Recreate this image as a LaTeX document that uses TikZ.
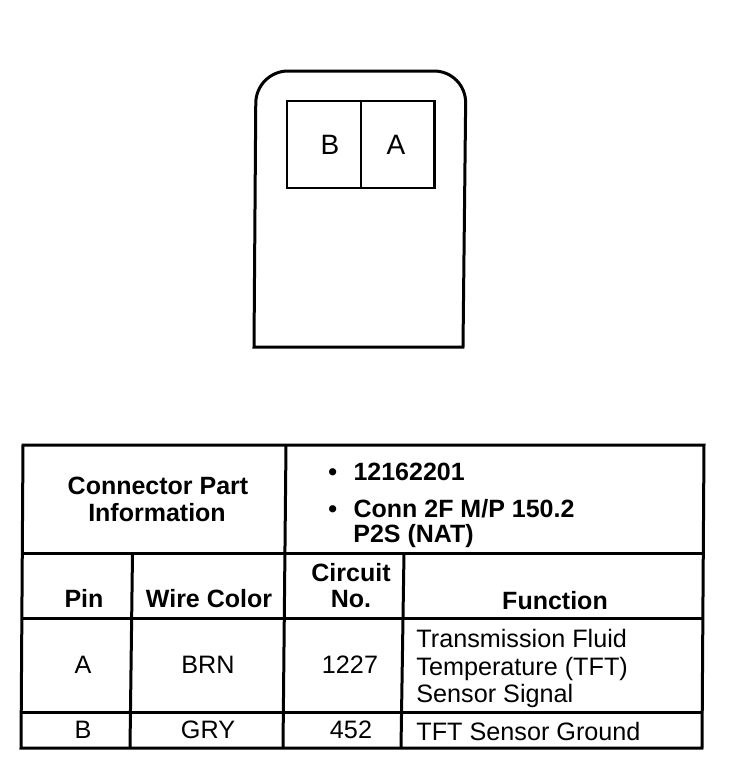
\documentclass[tikz,border=0pt]{standalone}
\usepackage{fontspec}
\setmainfont{Liberation Sans}
\usetikzlibrary{positioning}

\begin{document}
\begin{tikzpicture}[x=0.5pt, y=-0.5pt]
	\tikzstyle{rule}=[line width=1.5pt]
\tikzstyle{pinbox}=[rectangle, draw, line width=1.1pt, inner sep=0pt, outer sep=0pt, minimum width=36.8pt, minimum height=43.5pt]
\tikzstyle{pinlabel}=[inner sep=0pt, anchor=base, font=\fontsize{14}{14}\selectfont]
\tikzstyle{head}=[inner sep=0pt, anchor=base, font=\fontsize{12.5}{12.5}\selectfont\bfseries]
\tikzstyle{headleft}=[head, anchor=base west]
\tikzstyle{cell}=[inner sep=0pt, anchor=base, font=\fontsize{12.6}{12.6}\selectfont]
\tikzstyle{cellleft}=[cell, anchor=base west]
\useasboundingbox (0,0) rectangle (736,778);
% connector outline
\draw[rule] (254,347) [rounded corners=16pt] -- (256,71) -- (466,71) [sharp corners] -- (463,347) -- cycle;
\node[pinbox] (pinB) at (324,144.5) { };
\node[pinbox] (pinA) [right=0pt of pinB] { };
\node[pinlabel] (labelB) at (330,154) {B};
\node[pinlabel] (labelA) at (396,154) {A};
% table grid
\coordinate (tl) at (23,445);
\coordinate (tm) at (286,445);
\coordinate (tr) at (704,445);
\coordinate (al) at (22.5,553);
\coordinate (ap) at (132.5,553);
\coordinate (am) at (285.5,553);
\coordinate (ac) at (404,553);
\coordinate (ar) at (703.5,553);
\coordinate (bl) at (22,618);
\coordinate (br) at (703,618);
\coordinate (cl) at (21.5,712);
\coordinate (cr) at (702,712);
\coordinate (dl) at (21,748);
\coordinate (dp) at (130,748);
\coordinate (dm) at (283,748);
\coordinate (dc) at (401,748);
\coordinate (dr) at (702,748);
\draw[rule] (tl) -- (tr) -- (dr) -- (dl) -- cycle;
\path (tm) edge [rule] (dm)
      (ap) edge [rule] (dp)
      (ac) edge [rule] (dc)
      (al) edge [rule] (ar)
      (bl) edge [rule] (br)
      (cl) edge [rule] (cr);
% table text
\node[head] (partA) at (158,494) {Connector Part};
\node[head] (partB) at (157,521) {Information};
\node[headleft] (number) at (328,480) {\textbullet\hspace{8.2pt}12162201};
\node[headleft] (conn) at (328,517) {\textbullet\hspace{8.2pt}Conn 2F M/P 150.2};
\node[headleft] (conn2) at (353,542) {P2S (NAT)};
\node[head] (pin) at (84,607) {Pin};
\node[head] (wire) at (209,607) {Wire Color};
\node[head] (circuit) at (351,581) {Circuit};
\node[head] (circuit2) at (351,607) {No.};
\node[head] (function) at (555,609) {Function};
\node[cell] (pinRowA) at (83,673) {A};
\node[cell] (wireA) at (208,673) {BRN};
\node[cell] (circuitA) at (350,673) {1227};
\node[cellleft] (funcA) at (416,647) {Transmission Fluid};
\node[cellleft] (funcA2) at (416,675) {Temperature (TFT)};
\node[cellleft] (funcA3) at (416,702) {Sensor Signal};
\node[cell] (pinRowB) at (83,738) {B};
\node[cell] (wireB) at (208,738) {GRY};
\node[cell] (circuitB) at (351,738) {452};
\node[cellleft] (funcB) at (416,740) {TFT Sensor Ground};
\end{tikzpicture}
\end{document}
